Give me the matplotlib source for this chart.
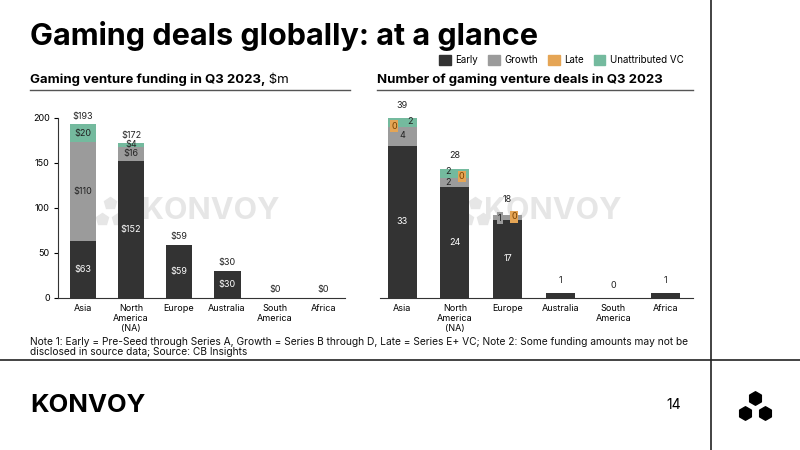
import numpy as np
import matplotlib.pyplot as plt
from matplotlib.patches import Patch
from matplotlib.lines import Line2D

plt.rcParams['font.family'] = ['Inter', 'DejaVu Sans']

# Données
regions = ["Asia", "North\nAmerica\n(NA)", "Europe", "Australia", "South\nAmerica", "Africa"]
series = ["Early", "Growth", "Late", "Unattributed VC"]

funding_early = [63, 152, 59, 30, 0, 0]
funding_growth = [110, 16, 0, 0, 0, 0]
funding_late = [0, 0, 0, 0, 0, 0]
funding_unattr = [20, 4, 0, 0, 0, 0]

deals_early = [33, 24, 17, 1, 0, 1]
deals_growth = [4, 2, 1, 0, 0, 0]
deals_late = [0, 0, 0, 0, 0, 0]
deals_unattr = [2, 2, 0, 0, 0, 0]

colors = ["#333333", "#9b9b9b", "#e5a555", "#74ba9e"]
txt_dark = "#222222"
wm_grey = "#e6e6e6"

fig = plt.figure(figsize=(8, 4.5), dpi=100)

# Titre principal
fig.text(0.0375, 0.9, "Gaming deals globally: at a glance",
         fontsize=22, fontweight="bold", color="black")

# Lignes de mise en page
fig.add_artist(Line2D([0.889, 0.889], [0, 1], color="#222222", lw=1.2))
fig.add_artist(Line2D([0, 1], [0.2, 0.2], color="#222222", lw=1.2))
fig.add_artist(Line2D([0.0375, 0.4375], [0.8, 0.8], color="#555555", lw=1))
fig.add_artist(Line2D([0.471, 0.866], [0.8, 0.8], color="#555555", lw=1))

# Sous-titres
t1 = fig.text(0.0375, 0.815, "Gaming venture funding in Q3 2023,",
              fontsize=9.5, fontweight="bold")
fig.text(0.471, 0.815, "Number of gaming venture deals in Q3 2023",
         fontsize=9.5, fontweight="bold")

# Légende
handles = [Patch(color=c, label=s) for c, s in zip(colors, series)]
fig.legend(handles=handles, loc="center right", bbox_to_anchor=(0.866, 0.866),
           ncol=4, frameon=False, fontsize=7, handlelength=1.2, handleheight=1.2,
           handletextpad=0.5, columnspacing=1.0)

# Filigranes (derrière les barres)
for xc, xi in ((0.264, 0.1375), (0.691, 0.594)):
    fig.text(xc, 0.531, "KONVOY", fontsize=22, fontweight="bold",
             color=wm_grey, ha="center", va="center", zorder=-1)
    fig.add_artist(Line2D([xi, xi - 0.01, xi + 0.01],
                          [0.548, 0.514, 0.514], ls="none", marker="p",
                          ms=9, color=wm_grey, zorder=-1))


def stacked(ax, early, growth, late, unattr, width):
    x = np.arange(len(regions))
    early = np.array(early)
    growth = np.array(growth)
    late = np.array(late)
    unattr = np.array(unattr)
    ax.bar(x, early, width, color=colors[0], zorder=2)
    ax.bar(x, growth, width, bottom=early, color=colors[1], zorder=2)
    ax.bar(x, late, width, bottom=early + growth, color=colors[2], zorder=2)
    ax.bar(x, unattr, width, bottom=early + growth + late, color=colors[3], zorder=2)
    ax.patch.set_alpha(0)
    for s in ("top", "right"):
        ax.spines[s].set_visible(False)
    ax.set_xticks(x)
    ax.set_xticklabels(regions, fontsize=6.5, linespacing=1.2)
    ax.tick_params(axis="x", length=0, pad=4)
    return x, early, growth, late, unattr


# Graphe de gauche : financement
ax1 = fig.add_axes([0.0725, 0.3378, 0.359, 0.4])
ax1.annotate(" $m", xy=(1, 0), xycoords=t1, va="bottom", ha="left",
             fontsize=9.5, annotation_clip=False)
x, e, g, l, u = stacked(ax1, funding_early, funding_growth, funding_late,
                        funding_unattr, 0.56)
ax1.set_xlim(-0.52, 5.46)
ax1.set_ylim(0, 200)
ax1.set_yticks([0, 50, 100, 150, 200])
ax1.tick_params(axis="y", labelsize=6.5, length=3, pad=3)
ax1.spines["left"].set_color("#333333")
ax1.spines["bottom"].set_color("#333333")
tot = e + g + l + u
for i in x:
    if e[i] > 0:
        ax1.text(i, e[i] / 2, f"${e[i]}", ha="center", va="center",
                 fontsize=6.5, color="white", zorder=3)
    if g[i] > 0:
        ax1.text(i, e[i] + g[i] / 2, f"${g[i]}", ha="center", va="center",
                 fontsize=6.5, color=txt_dark, zorder=3)
    if u[i] > 0:
        ax1.text(i, e[i] + g[i] + l[i] + u[i] / 2, f"${u[i]}", ha="center",
                 va="center", fontsize=6.5, color=txt_dark, zorder=3)
    ax1.text(i, tot[i] + 4, f"${tot[i]}", ha="center", va="bottom",
             fontsize=6.5, color=txt_dark, clip_on=False)

# Graphe de droite : nombre de deals
ax2 = fig.add_axes([0.475, 0.3378, 0.391, 0.4])
x, e, g, l, u = stacked(ax2, deals_early, deals_growth, deals_late,
                        deals_unattr, 0.55)
ax2.set_xlim(-0.42, 5.51)
ax2.set_ylim(0, 39)
ax2.set_yticks([])
ax2.spines["left"].set_visible(False)
ax2.spines["bottom"].set_color("#333333")
tot = e + g + l + u
box = dict(boxstyle="square,pad=0.15", lw=0)
for i in x:
    if e[i] > 1:
        ax2.text(i, e[i] / 2, f"{e[i]}", ha="center", va="center",
                 fontsize=6.5, color="white", zorder=3)
    lift = 2.3 if i == 2 else 1.8
    ax2.text(i, tot[i] + lift, f"{tot[i]}", ha="center", va="bottom",
             fontsize=6.5, color=txt_dark, clip_on=False)

# Étiquettes des petits segments (Asia, NA, Europe)
ax2.text(0, e[0] + g[0] / 2 + 0.2, f"{g[0]}", ha="center", va="center",
         fontsize=6.5, color=txt_dark, zorder=3)
ax2.text(0.15, e[0] + g[0] + u[0] / 2 + 0.3, f"{u[0]}", ha="center",
         va="center", fontsize=6.5, color=txt_dark, zorder=3)
ax2.text(-0.15, e[0] + g[0] + 0.2, f"{l[0]}", ha="center", va="center",
         fontsize=6.5, color="#7a4200", zorder=4, bbox=dict(box, fc=colors[2]))

ax2.text(1 - 0.13, e[1] + g[1] / 2, f"{g[1]}", ha="center", va="center",
         fontsize=6.5, color=txt_dark, zorder=3)
ax2.text(1 - 0.13, e[1] + g[1] + u[1] / 2 + 0.3, f"{u[1]}", ha="center",
         va="center", fontsize=6.5, color=txt_dark, zorder=3)
ax2.text(1 + 0.13, e[1] + g[1] + 0.3, f"{l[1]}", ha="center", va="center",
         fontsize=6.5, color="#7a4200", zorder=4, bbox=dict(box, fc=colors[2]))

ax2.text(2 - 0.15, e[2] + g[2] / 2 - 0.2, f"{g[2]}", ha="center", va="center",
         fontsize=6.5, color=txt_dark, zorder=4, bbox=dict(box, fc=colors[1]))
ax2.text(2 + 0.12, e[2] + g[2] / 2 + 0.1, f"{l[2]}", ha="center", va="center",
         fontsize=6.5, color="#7a4200", zorder=4, bbox=dict(box, fc=colors[2]))

# Note
fig.text(0.0375, 0.252,
         "Note 1: Early = Pre-Seed through Series A, Growth = Series B through D, "
         "Late = Series E+ VC; Note 2: Some funding amounts may not be\n"
         "disclosed in source data; Source: CB Insights",
         fontsize=7.35, va="top", linespacing=1.05, color="#111111")

# Pied de page
fig.text(0.0375, 0.1, "KONVOY", fontsize=18.5, fontweight="bold",
         va="center", ha="left")
fig.text(0.842, 0.1, "14", fontsize=10, va="center", ha="center")
logo = fig.add_axes([0.919, 0.0556, 0.05, 0.0889])
logo.scatter([0.5, 0.25, 0.75], [0.675, 0.3, 0.3], marker="h", s=95,
             color="black")
logo.set_xlim(0, 1)
logo.set_ylim(0, 1)
logo.axis("off")

fig.savefig("out.png", dpi=100)
